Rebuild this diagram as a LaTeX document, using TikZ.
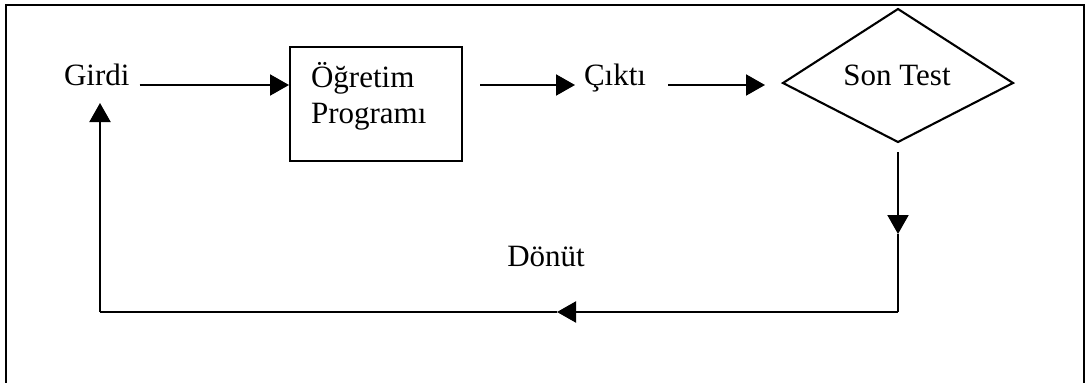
\documentclass[tikz,border=0pt]{standalone}
\usepackage{fontspec}
\setmainfont{Liberation Serif}
\usetikzlibrary{arrows.meta}
\begin{document}
\begin{tikzpicture}[x=1pt,y=-1pt,
  line width=2.1pt,
  lbl/.style={inner sep=0pt,font=\fontsize{31}{36}\selectfont},
  arr/.style={-{Triangle[length=19pt,width=21pt]}},
  procbox/.style={draw,inner sep=0pt,minimum width=172pt,minimum height=114pt,anchor=north west}]
\useasboundingbox (0,0) rectangle (1088,383);
\clip (0,0) rectangle (1088,383);
% outer frame (runs past the lower edge)
\draw (6,5) rectangle (1084,420);

% top row
\node[lbl,anchor=base west] (girdi) at (63,85) {Girdi};
\node[procbox] (prog) at (289,46) {};
\node[lbl,anchor=base west] (prog1) at (310,87) {Öğretim};
\node[lbl,anchor=base west] (prog2) at (310,123) {Programı};
\node[lbl,anchor=base west] (cikti) at (583,85) {Çıktı};

% decision diamond
\coordinate (dtop) at (898,9);
\coordinate (dright) at (1013,83);
\coordinate (dbot) at (898,142);
\coordinate (dleft) at (783,83);
\draw (dtop) -- (dright) -- (dbot) -- (dleft) -- cycle;
\node[lbl,anchor=base] (sontest) at (897,85) {Son Test};

% feedback label
\node[lbl,anchor=base] (donut) at (546,266) {Dönüt};

% forward connectors
\draw[arr] ([xshift=9pt]girdi.base east) -- (girdi.base -| prog.west);
\draw[arr] ([xshift=17pt]girdi.base -| prog.east) -- ([xshift=-8pt]cikti.base west);
\draw[arr] ([xshift=21pt]cikti.base east) -- ([xshift=-18pt]girdi.base -| dleft);

% feedback loop
\coordinate (cR) at (898,312);
\coordinate (cL) at (100,312);
\coordinate (midD) at (898,234);
\coordinate (midL) at (557,312);
\draw[arr] ([yshift=-10pt]dbot) -- (midD);
\draw (midD) -- (cR);
\draw[arr] (cR) -- (midL);
\draw (midL) -- (cL);
\draw[arr] (cL) -- ([yshift=-18pt]girdi.base -| cL);
\end{tikzpicture}
\end{document}
